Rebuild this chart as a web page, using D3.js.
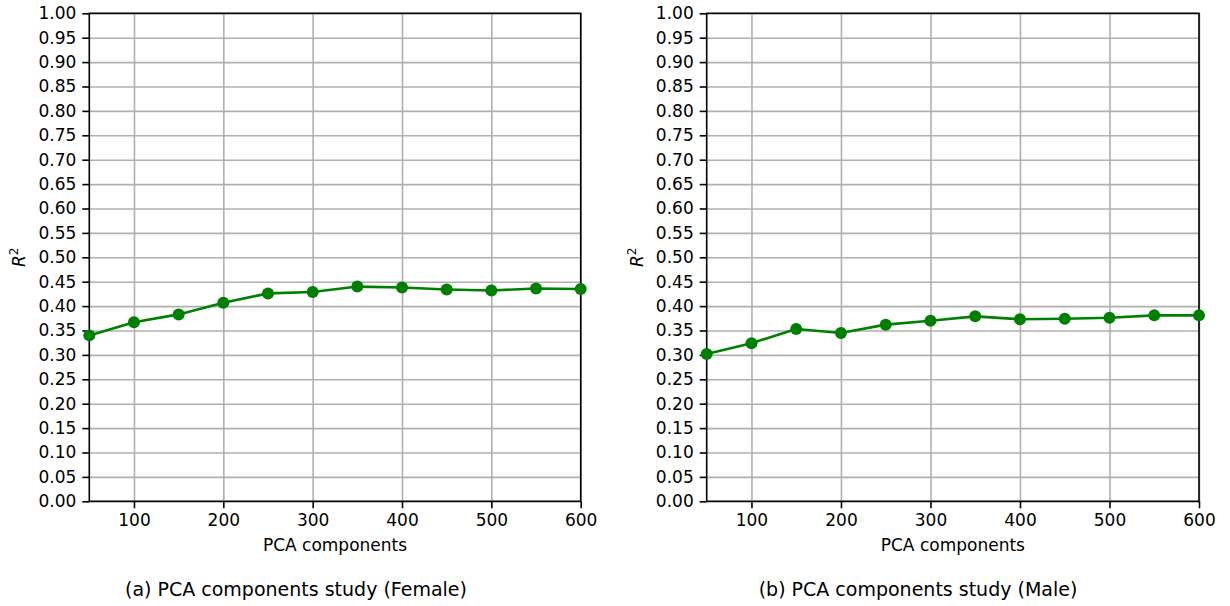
<!DOCTYPE html>
<html lang="en">
<head>
  <meta charset="UTF-8">
  <script src="https://d3js.org/d3.v7.min.js"></script>
  <style>
    body { margin: 0; background: white; }
    svg text { font-family: 'DejaVu Sans', sans-serif; fill: black; }
    .grid line { stroke: #b0b0b0; stroke-width: 1.6px; }
    .grid path { display: none; }
    .axis path { display: none; }
    .axis line { stroke: black; stroke-width: 1.6px; }
    .axis text { font-size: 17px; }
  </style>
</head>
<body>
  <svg id="chart" width="1230" height="606"></svg>
  <script>
    // PCA components on x axis
    const components = [50, 100, 150, 200, 250, 300, 350, 400, 450, 500, 550, 600];
    const femaleR2 = [0.340, 0.367, 0.383, 0.407, 0.426, 0.429, 0.440, 0.438, 0.434, 0.432, 0.436, 0.435];
    const maleR2 = [0.302, 0.324, 0.353, 0.345, 0.362, 0.370, 0.379, 0.373, 0.374, 0.376, 0.381, 0.381];
    const xTicks = [100, 200, 300, 400, 500, 600];
    const yTicks = d3.range(0, 21).map(i => i * 0.05);
    const captions = ["(a) PCA components study (Female)", "(b) PCA components study (Male)"];

    const svg = d3.select("#chart");
    const plotTop = 13.3, plotBottom = 501.3;

    const panels = [
      { left: 89.3, right: 580.7, values: femaleR2, caption: captions[0], capX: 296, labelX: 20 },
      { left: 706.7, right: 1199, values: maleR2, caption: captions[1], capX: 918, labelX: 638 }
    ];

    panels.forEach(p => {
      const g = svg.append("g");
      const x = d3.scaleLinear().domain([50, 600]).range([p.left, p.right]);
      const y = d3.scaleLinear().domain([0, 1]).range([plotBottom, plotTop]);

      // grid
      g.append("g").attr("class", "grid")
        .attr("transform", "translate(0," + plotBottom + ")")
        .call(d3.axisBottom(x).tickValues(xTicks).tickSize(-(plotBottom - plotTop)).tickFormat(""));
      g.append("g").attr("class", "grid")
        .attr("transform", "translate(" + p.left + ",0)")
        .call(d3.axisLeft(y).tickValues(yTicks).tickSize(-(p.right - p.left)).tickFormat(""));

      // spines
      g.append("rect")
        .attr("x", p.left).attr("y", plotTop)
        .attr("width", p.right - p.left).attr("height", plotBottom - plotTop)
        .attr("fill", "none").attr("stroke", "black").attr("stroke-width", 1.6);

      // axes
      g.append("g").attr("class", "axis")
        .attr("transform", "translate(0," + plotBottom + ")")
        .call(d3.axisBottom(x).tickValues(xTicks).tickSize(7).tickPadding(6).tickFormat(d3.format("d")));
      g.append("g").attr("class", "axis")
        .attr("transform", "translate(" + p.left + ",0)")
        .call(d3.axisLeft(y).tickValues(yTicks).tickSize(7).tickPadding(6).tickFormat(d3.format(".2f")));

      // line + markers
      const pts = components.map((c, i) => [c, p.values[i]]);
      g.append("path")
        .datum(pts)
        .attr("fill", "none")
        .attr("stroke", "#008000")
        .attr("stroke-width", 2.6)
        .attr("d", d3.line().x(d => x(d[0])).y(d => y(d[1])));
      g.selectAll("circle.pt").data(pts)
        .join("circle")
        .attr("class", "pt")
        .attr("cx", d => x(d[0]))
        .attr("cy", d => y(d[1]))
        .attr("r", 6)
        .attr("fill", "#008000");

      // labels
      g.append("text")
        .attr("x", (p.left + p.right) / 2)
        .attr("y", 551)
        .attr("text-anchor", "middle")
        .style("font-size", "17px")
        .text("PCA components");

      const yl = g.append("text")
        .attr("transform", "translate(" + (p.labelX + 5) + "," + ((plotTop + plotBottom) / 2) + ") rotate(-90)")
        .attr("text-anchor", "middle")
        .style("font-size", "17px");
      yl.append("tspan").style("font-style", "italic").text("R");
      yl.append("tspan").attr("dy", -7).style("font-size", "12px").text("2");

      g.append("text")
        .attr("x", p.capX)
        .attr("y", 596)
        .attr("text-anchor", "middle")
        .style("font-size", "19px")
        .text(p.caption);
    });
  </script>
</body>
</html>
